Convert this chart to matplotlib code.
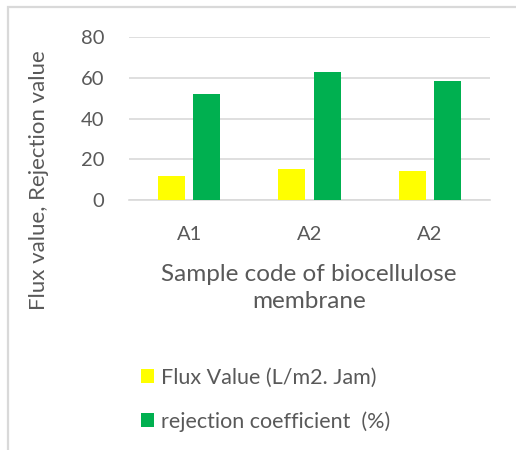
import matplotlib.pyplot as plt
from matplotlib.patches import Rectangle
import numpy as np

# dados do gráfico
amostras = ["A1", "A2", "A2"]
fluxo = [12, 15, 14]
rejeicao = [52.2, 63, 58.6]
rotulo_fluxo = "Flux Value (L/m2. Jam)"
rotulo_rejeicao = "rejection coefficient  (%)"
yticks = [0, 20, 40, 60, 80]

CINZA_TEXTO = '#595959'
CINZA_GRADE = '#d9d9d9'
AMARELO = '#ffff00'
VERDE = '#00b050'

plt.rcParams['font.family'] = ['Lato', 'DejaVu Sans']

W, H = 516, 450
fig = plt.figure(figsize=(W / 100, H / 100), dpi=100, facecolor='white')

# moldura cortada do gráfico (só esquerda e topo visíveis)
fig.patches.append(Rectangle((8 / W, -0.1), 1.2, 1.1 - 7 / H, transform=fig.transFigure,
                             fill=False, edgecolor=CINZA_GRADE, linewidth=1.6))

ax = fig.add_axes([129 / W, 1 - 200 / H, (490 - 129) / W, (200 - 37) / H])
x = np.arange(len(amostras))
larg = 0.225
desl = 0.146
b1 = ax.bar(x - desl, fluxo, larg, color=AMARELO, zorder=3)
b2 = ax.bar(x + desl, rejeicao, larg, color=VERDE, zorder=3)

ax.set_xlim(-0.5, len(amostras) - 0.5)
ax.set_ylim(0, 80)
ax.set_yticks(yticks)
ax.set_xticks(x)
ax.set_xticklabels(amostras)
ax.yaxis.grid(True, color=CINZA_GRADE, linewidth=1.2, zorder=0)
for s in ['top', 'right', 'left']:
    ax.spines[s].set_visible(False)
ax.spines['bottom'].set_color(CINZA_GRADE)
ax.spines['bottom'].set_linewidth(1.2)
ax.tick_params(axis='both', length=0, colors=CINZA_TEXTO, labelsize=14.5)
ax.tick_params(axis='y', pad=18)
ax.tick_params(axis='x', pad=19)

fig.text(309 / W, 1 - 288 / H, "Sample code of biocellulose\nmembrane", ha='center', va='center',
         fontsize=17.5, color=CINZA_TEXTO, linespacing=1.35)
fig.text(39 / W, 1 - 180 / H, "Flux value, Rejection value", ha='center', va='center',
         rotation=90, fontsize=16, color=CINZA_TEXTO)

fig.legend([b1, b2], [rotulo_fluxo, rotulo_rejeicao], loc='upper left',
           bbox_to_anchor=(122 / W, 1 - 348 / H), frameon=False, fontsize=15.5,
           handlelength=0.6, handleheight=0.6, handletextpad=0.3, labelspacing=1.1,
           labelcolor=CINZA_TEXTO)

fig.savefig('out.png', dpi=100, facecolor='white')
